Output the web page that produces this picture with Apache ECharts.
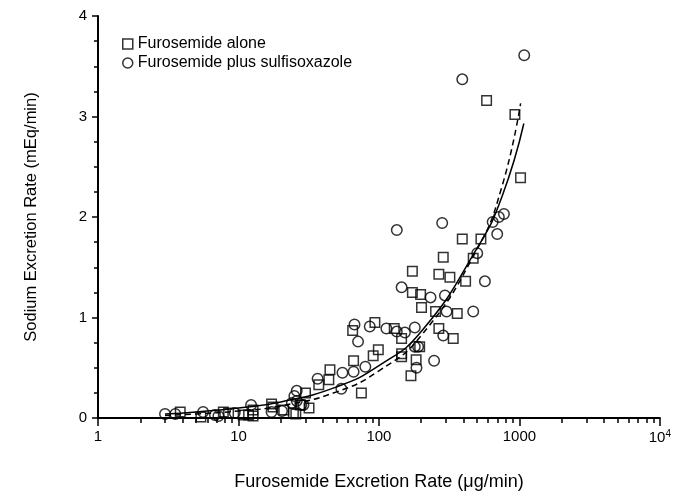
<!DOCTYPE html>
<html>
<head>
<meta charset="utf-8">
<script src="https://cdn.jsdelivr.net/npm/echarts@6.0.0/dist/echarts.min.js"></script>
<style>
  html, body { margin: 0; background: #fff; }
  #chart { width: 674px; height: 496px; }
</style>
</head>
<body>
<div id="chart"></div>
<script>
// Furosemide alone (squares)
const aloneX = [3.85, 5.4, 7.8, 8.5, 10.8, 11.8, 12.7, 12.7, 17.2, 17.6, 21, 24.6, 25.6, 27.5, 30, 31.8,
  37.3, 44, 44.8, 65, 66, 75, 91, 93.6, 99, 128.5, 145, 145, 145, 169, 173, 173, 184, 195, 198, 201,
  253, 267, 267, 287, 320, 338, 361, 392, 414, 469, 532, 584, 929, 1019];
const aloneY = [0.06, 0.01, 0.06, 0.05, 0.03, 0.03, 0.02, 0.08, 0.14, 0.11, 0.08, 0.05, 0.04, 0.13, 0.25, 0.10,
  0.33, 0.38, 0.48, 0.87, 0.57, 0.25, 0.62, 0.95, 0.68, 0.89, 0.79, 0.61, 0.64, 0.42, 1.46, 1.25, 0.58, 0.71, 1.23, 1.10,
  1.06, 1.43, 0.89, 1.60, 1.40, 0.79, 1.04, 1.78, 1.36, 1.59, 1.78, 3.16, 3.02, 2.39];

// Furosemide plus sulfisoxazole (circles)
const plusX = [3.0, 3.55, 5.6, 6.8, 7.2, 9.4, 12.3, 17.2, 20.4, 24, 25, 26, 26, 28, 29, 36.6, 54, 55, 66,
  67, 71, 80, 86, 113, 134, 134, 145, 153, 180, 180, 190, 185, 233, 247, 282, 295, 287, 303, 392, 469,
  501, 568, 645, 695, 714, 776, 1082];
const plusY = [0.04, 0.04, 0.06, 0.03, 0.02, 0.05, 0.13, 0.06, 0.07, 0.15, 0.22, 0.27, 0.17, 0.13, 0.13, 0.39, 0.29, 0.45, 0.46,
  0.93, 0.76, 0.51, 0.91, 0.89, 0.86, 1.87, 1.30, 0.85, 0.90, 0.71, 0.71, 0.50, 1.20, 0.57, 1.94, 1.22, 0.82, 1.06, 3.37, 1.06,
  1.64, 1.36, 1.95, 1.83, 2.00, 2.03, 3.61];

// fitted curves
const solidX = [3, 5, 10, 20, 50, 100, 200, 500, 750, 1075];
const solidY = [0.04, 0.06, 0.10, 0.16, 0.31, 0.52, 0.86, 1.69, 2.20, 2.93];
const dashedX = [3, 5, 10, 20, 50, 100, 200, 500, 750, 1020];
const dashedY = [0.025, 0.04, 0.07, 0.12, 0.26, 0.47, 0.82, 1.68, 2.30, 3.13];

const yTicks = [0, 1, 2, 3, 4];

const pairs = (xs, ys) => xs.map((x, i) => [x, ys[i]]);

// minor ticks of the log axis, in decades (drawn on an overlay value axis)
const minorTicks = [];
for (let d = 0; d < 4; d++) {
  for (let k = 2; k < 10; k++) minorTicks.push(d + Math.log10(k));
}

const FONT = 'Liberation Sans, Arial, sans-serif';
const open = { color: 'transparent', borderColor: '#000', borderWidth: 1.5 };

const chart = echarts.init(document.getElementById('chart'), null, { renderer: 'canvas' });

chart.setOption({
  animation: false,
  backgroundColor: '#fff',
  textStyle: { fontFamily: FONT, color: '#000' },
  grid: { left: 98, right: 14, top: 16, bottom: 78, containLabel: false },
  legend: {
    left: 117,
    top: 31,
    orient: 'vertical',
    itemGap: 3,
    itemWidth: 10,
    itemHeight: 10,
    textStyle: { fontFamily: FONT, fontSize: 16, color: '#000' },
    data: [
      { name: 'Furosemide alone', icon: 'rect', itemStyle: open },
      { name: 'Furosemide plus sulfisoxazole', icon: 'circle', itemStyle: open }
    ]
  },
  xAxis: [
    {
      type: 'log',
      logBase: 10,
      min: 1,
      max: 10000,
      name: 'Furosemide Excretion Rate (\u03bcg/min)',
      nameLocation: 'middle',
      nameGap: 55,
      nameTextStyle: { fontFamily: FONT, fontSize: 18, color: '#000' },
      axisLine: { lineStyle: { color: '#000', width: 2 } },
      axisTick: { length: 8, lineStyle: { color: '#000', width: 1.5 } },
      axisLabel: {
        margin: 11,
        fontFamily: FONT,
        fontSize: 15,
        color: '#000',
        formatter: (v) => (v >= 10000 ? '{b|10}{s|4}' : String(v)),
        rich: {
          b: { fontFamily: FONT, fontSize: 15, color: '#000' },
          s: { fontFamily: FONT, fontSize: 10, color: '#000', verticalAlign: 'top', padding: [0, 0, 7, 0] }
        }
      },
      splitLine: { show: false }
    },
    {
      type: 'value',
      min: 0,
      max: 4,
      position: 'bottom',
      axisLine: { show: false },
      axisLabel: { show: false },
      splitLine: { show: false },
      axisTick: { customValues: minorTicks, length: 5, lineStyle: { color: '#000', width: 1.5 } }
    }
  ],
  yAxis: {
    type: 'value',
    min: 0,
    max: 4,
    interval: 1,
    name: 'Sodium Excretion Rate (mEq/min)',
    nameLocation: 'middle',
    nameGap: 58,
    nameTextStyle: { fontFamily: FONT, fontSize: 16.5, color: '#000' },
    axisLine: { show: true, lineStyle: { color: '#000', width: 2 } },
    axisTick: { show: true, length: 6, lineStyle: { color: '#000', width: 1.5 } },
    minorTick: { show: true, splitNumber: 4, length: 4, lineStyle: { color: '#000', width: 1.5 } },
    axisLabel: {
      margin: 11,
      fontFamily: FONT,
      fontSize: 15,
      color: '#000',
      customValues: yTicks
    },
    splitLine: { show: false }
  },
  series: [
    {
      name: 'Furosemide alone',
      type: 'scatter',
      symbol: 'rect',
      symbolSize: 9.5,
      itemStyle: open,
      data: pairs(aloneX, aloneY),
      z: 3
    },
    {
      name: 'Furosemide plus sulfisoxazole',
      type: 'scatter',
      symbol: 'circle',
      symbolSize: 10.5,
      itemStyle: open,
      data: pairs(plusX, plusY),
      z: 3
    },
    {
      name: 'solid fit',
      type: 'line',
      smooth: true,
      showSymbol: false,
      lineStyle: { color: '#000', width: 1.5 },
      data: pairs(solidX, solidY),
      z: 2
    },
    {
      name: 'dashed fit',
      type: 'line',
      smooth: true,
      showSymbol: false,
      lineStyle: { color: '#000', width: 1.5, type: [6, 4] },
      data: pairs(dashedX, dashedY),
      z: 2
    }
  ]
});
</script>
</body>
</html>
